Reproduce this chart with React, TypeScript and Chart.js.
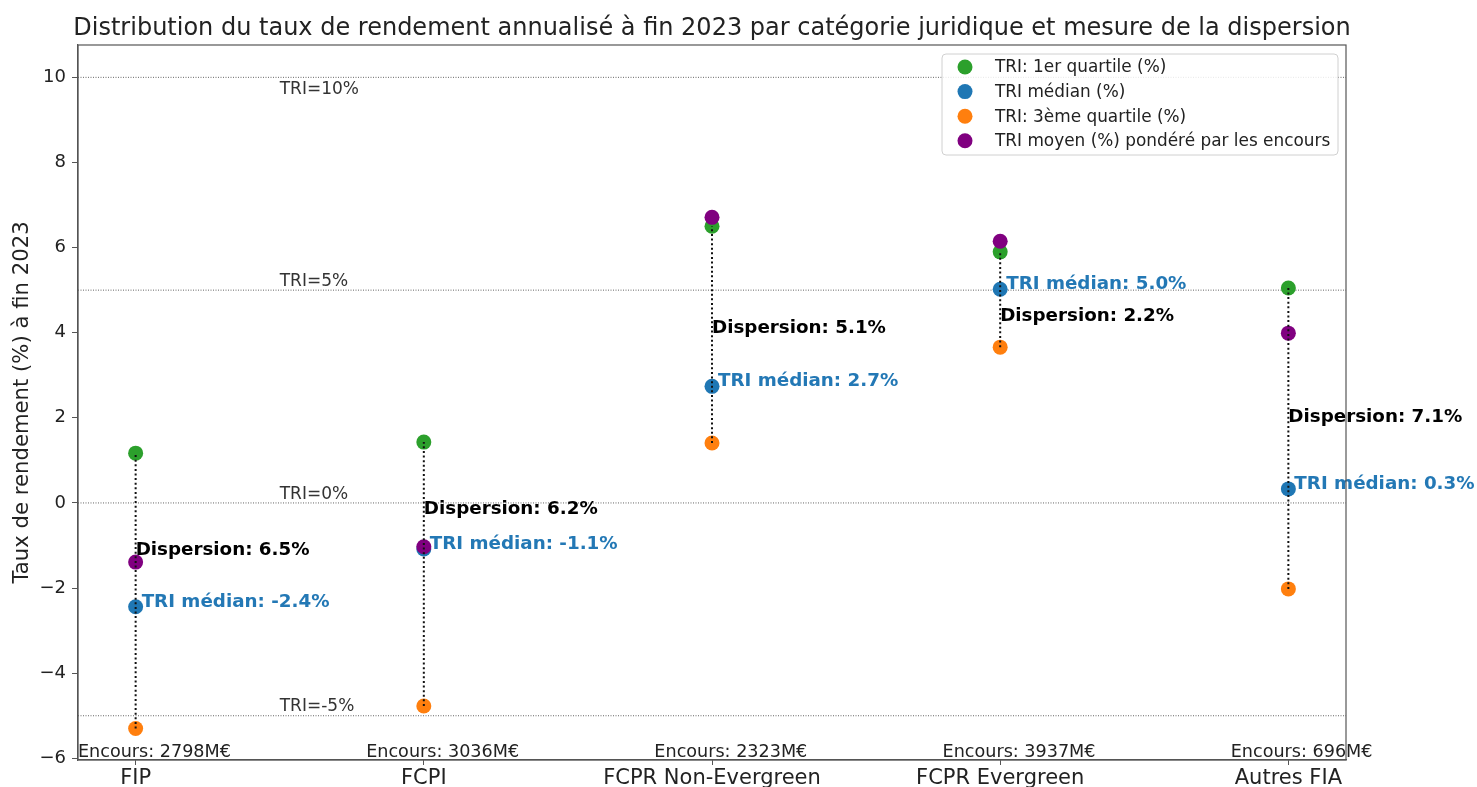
import React, { useEffect, useRef } from "react";
import { Chart, registerables } from "chart.js";

Chart.register(...registerables);

const categories = ["FIP", "FCPI", "FCPR Non-Evergreen", "FCPR Evergreen", "Autres FIA"];
const q1 = [1.17, 1.43, 6.5, 5.9, 5.05];
const median = [-2.44, -1.08, 2.74, 5.02, 0.33];
const q3 = [-5.3, -4.77, 1.41, 3.66, -2.02];
const meanWeighted = [-1.39, -1.03, 6.71, 6.15, 3.99];
const encours = [2798, 3036, 2323, 3937, 696];
const dispersionLabelY = [-1.22, -0.25, 3.99, 4.27, 1.9];
const refLevels = [10, 5, 0, -5];
const refLabelY = [9.6, 5.1, 0.1, -4.9];
const yTicks = [-6, -4, -2, 0, 2, 4, 6, 8, 10];

const seriesNames = [
  "TRI: 1er quartile (%)",
  "TRI médian (%)",
  "TRI: 3ème quartile (%)",
  "TRI moyen (%) pondéré par les encours",
];
const seriesColors = ["#2ca02c", "#1f77b4", "#ff7f0e", "#800080"];
const titleText =
  "Distribution du taux de rendement annualisé à fin 2023 par catégorie juridique et mesure de la dispersion";
const FONT = "'DejaVu Sans', sans-serif";

const overlayPlugin = {
  id: "overlay",
  afterDraw(chart: any) {
    const { ctx, chartArea, scales } = chart;
    const x = scales.x;
    const y = scales.y;
    ctx.save();

    // reference level labels
    ctx.font = `17px ${FONT}`;
    ctx.fillStyle = "#333";
    ctx.textAlign = "left";
    ctx.textBaseline = "alphabetic";
    refLevels.forEach((lv, i) => {
      ctx.fillText(`TRI=${lv}%`, x.getPixelForValue(0.5), y.getPixelForValue(refLabelY[i]));
    });

    // dispersion labels
    ctx.font = `bold 18.3px ${FONT}`;
    ctx.fillStyle = "#000";
    categories.forEach((_, i) => {
      const d = (q1[i] - q3[i]).toFixed(1);
      ctx.fillText(`Dispersion: ${d}%`, x.getPixelForValue(i), y.getPixelForValue(dispersionLabelY[i]));
    });

    // median labels
    ctx.fillStyle = "#2378b5";
    categories.forEach((_, i) => {
      ctx.fillText(
        `TRI médian: ${median[i].toFixed(1)}%`,
        x.getPixelForValue(i) + 6,
        y.getPixelForValue(median[i])
      );
    });

    // encours labels
    ctx.font = `17.6px ${FONT}`;
    ctx.fillStyle = "#222";
    ctx.textAlign = "left";
    categories.forEach((_, i) => {
      ctx.fillText(`Encours: ${encours[i]}M€`, x.getPixelForValue(i - 0.2), chartArea.bottom - 3);
    });

    // frame
    ctx.strokeStyle = "#555";
    ctx.lineWidth = 1.2;
    ctx.strokeRect(chartArea.left, chartArea.top, chartArea.right - chartArea.left, chartArea.bottom - chartArea.top);

    // title
    ctx.font = `24px ${FONT}`;
    ctx.fillStyle = "#222";
    ctx.textAlign = "center";
    ctx.textBaseline = "alphabetic";
    ctx.fillText(titleText, (chartArea.left + chartArea.right) / 2, 35);

    // legend
    const bx = 942, by = 54, bw = 396, bh = 101;
    ctx.fillStyle = "rgba(255,255,255,0.85)";
    ctx.strokeStyle = "#d0d0d0";
    ctx.lineWidth = 1;
    ctx.beginPath();
    ctx.roundRect(bx, by, bw, bh, 4);
    ctx.fill();
    ctx.stroke();
    ctx.font = `16.9px ${FONT}`;
    ctx.textAlign = "left";
    ctx.textBaseline = "middle";
    seriesNames.forEach((name, i) => {
      const cy = by + 13 + i * 24.6;
      ctx.fillStyle = seriesColors[i];
      ctx.beginPath();
      ctx.arc(965, cy, 7.5, 0, Math.PI * 2);
      ctx.fill();
      ctx.fillStyle = "#222";
      ctx.fillText(name, 995, cy + 1);
    });

    ctx.restore();
  },
};

export default function App() {
  const canvasRef = useRef<HTMLCanvasElement | null>(null);

  useEffect(() => {
    document.body.style.margin = "0";
    const canvas = canvasRef.current;
    if (!canvas) return;

    const refDatasets = refLevels.map((lv) => ({
      type: "line" as const,
      label: `ref${lv}`,
      data: [
        { x: -0.2, y: lv },
        { x: 4.2, y: lv },
      ],
      borderColor: "#555",
      borderWidth: 0.9,
      borderDash: [1, 1.5],
      pointRadius: 0,
      order: 6,
    }));

    const rangeDatasets = categories.map((c, i) => ({
      type: "line" as const,
      label: `range-${c}`,
      data: [
        { x: i, y: q3[i] },
        { x: i, y: q1[i] },
      ],
      borderColor: "#111",
      borderWidth: 2,
      borderDash: [2, 2.6],
      pointRadius: 0,
      order: 0,
    }));

    const mk = (vals: number[], idx: number, order: number) => ({
      type: "scatter" as const,
      label: seriesNames[idx],
      data: vals.map((v, i) => ({ x: i, y: v })),
      backgroundColor: seriesColors[idx],
      borderWidth: 0,
      pointRadius: 7.5,
      pointHoverRadius: 7.5,
      order,
    });

    const chart = new Chart(canvas, {
      type: "scatter",
      data: {
        datasets: [
          mk(q1, 0, 4),
          mk(median, 1, 3),
          mk(q3, 2, 2),
          mk(meanWeighted, 3, 1),
          ...rangeDatasets,
          ...refDatasets,
        ] as any,
      },
      options: {
        animation: false,
        responsive: false,
        maintainAspectRatio: false,
        layout: { padding: { left: 0, right: 131, top: 45, bottom: 0 } },
        plugins: {
          legend: { display: false },
          title: { display: false },
          tooltip: { enabled: false },
        },
        scales: {
          x: {
            type: "linear",
            min: -0.2,
            max: 4.2,
            afterBuildTicks: (s: any) => {
              s.ticks = categories.map((_, i) => ({ value: i }));
            },
            afterFit: (s: any) => {
              s.height = 27;
            },
            ticks: {
              callback: (v: any) => categories[v] ?? "",
              font: { family: FONT, size: 21 },
              color: "#222",
              padding: 1,
              maxRotation: 0,
              autoSkip: false,
            },
            grid: {
              display: true,
              drawOnChartArea: false,
              drawTicks: true,
              tickLength: 5,
              color: "#555",
            },
            border: { display: true, color: "#555", width: 1.2 },
          },
          y: {
            type: "linear",
            min: -6.04,
            max: 10.76,
            afterBuildTicks: (s: any) => {
              s.ticks = yTicks.map((v) => ({ value: v }));
            },
            afterFit: (s: any) => {
              s.width = 78;
            },
            ticks: {
              callback: (v: any) => (v < 0 ? "\u2212" + Math.abs(v) : String(v)),
              font: { family: FONT, size: 18 },
              color: "#222",
              padding: 6,
            },
            grid: {
              display: true,
              drawOnChartArea: false,
              drawTicks: true,
              tickLength: 6,
              color: "#555",
            },
            border: { display: true, color: "#555", width: 1.2 },
            title: {
              display: true,
              text: "Taux de rendement (%) à fin 2023",
              font: { family: FONT, size: 21.2 },
              color: "#222",
              padding: { top: 10, bottom: 0 },
            },
          },
        },
      },
      plugins: [overlayPlugin],
    });

    return () => chart.destroy();
  }, []);

  return (
    <div style={{ width: 1477, height: 787, background: "#fff" }}>
      <canvas ref={canvasRef} width={1477} height={787} style={{ display: "block", width: 1477, height: 787 }} />
    </div>
  );
}
